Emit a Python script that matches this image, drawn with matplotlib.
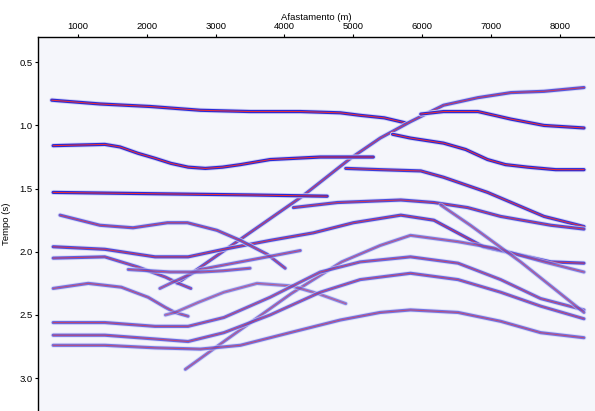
import matplotlib
matplotlib.use("Agg")
import matplotlib.pyplot as plt

plt.rcParams['font.family'] = ['Liberation Sans', 'DejaVu Sans']

# reflection events picked from the gather: offset (m) and time (s)
ev_a_off = [620, 1320, 2050, 2780, 3500, 4230, 4810, 5100, 5450, 5760]
ev_a_t = [0.80, 0.83, 0.85, 0.88, 0.89, 0.89, 0.90, 0.92, 0.94, 0.98]

ev_l1_off = [2440, 3310, 4260, 4960, 5390, 5830, 6310, 6810, 7290, 7770, 8350]
ev_l1_t = [2.25, 1.92, 1.56, 1.26, 1.10, 0.97, 0.84, 0.78, 0.74, 0.73, 0.70]

ev_b_off = [5980, 6310, 6810, 7290, 7770, 8350]
ev_b_t = [0.91, 0.89, 0.89, 0.95, 1.00, 1.02]

ev_c_off = [640, 1390, 1610, 1870, 2120, 2350, 2600, 2850, 3100, 3360, 3790, 4520, 5290]
ev_c_t = [1.16, 1.15, 1.17, 1.22, 1.26, 1.30, 1.33, 1.34, 1.33, 1.31, 1.27, 1.25, 1.25]

ev_d_off = [5570, 5830, 6310, 6630, 6950, 7210, 7530, 7940, 8350]
ev_d_t = [1.07, 1.10, 1.14, 1.19, 1.27, 1.31, 1.33, 1.35, 1.35]

ev_e_off = [640, 2050, 3500, 4620]
ev_e_t = [1.53, 1.54, 1.55, 1.56]

ev_f_off = [4890, 5390, 5980, 6310, 6950, 7770, 8350]
ev_f_t = [1.34, 1.35, 1.36, 1.41, 1.53, 1.72, 1.80]

ev_g_off = [4130, 4770, 5690, 6170, 6660, 7140, 7870, 8350]
ev_g_t = [1.65, 1.61, 1.59, 1.61, 1.65, 1.72, 1.79, 1.82]

ev_h_off = [640, 1390, 2120, 2600, 3120, 3790, 4420, 5000, 5690, 6170, 6890, 7870, 8350]
ev_h_t = [1.96, 1.98, 2.04, 2.04, 1.98, 1.91, 1.85, 1.77, 1.71, 1.75, 1.96, 2.08, 2.09]

ev_s1_off = [2560, 3120, 4100, 4830, 5390, 5830, 6520, 7040, 7770, 8350]
ev_s1_t = [2.93, 2.71, 2.33, 2.08, 1.95, 1.87, 1.92, 1.97, 2.08, 2.16]

ev_i_off = [740, 1320, 1800, 2300, 2590, 3020, 3360, 3750, 4010]
ev_i_t = [1.71, 1.79, 1.81, 1.77, 1.77, 1.83, 1.91, 2.02, 2.13]

ev_j_off = [640, 1390, 1870, 2270, 2460, 2640]
ev_j_t = [2.05, 2.04, 2.12, 2.20, 2.25, 2.29]

ev_k_off = [2190, 2380, 2780, 3260, 3750, 4230]
ev_k_t = [2.29, 2.24, 2.14, 2.09, 2.04, 1.99]

ev_flat_off = [1730, 2340, 2780, 3110, 3500]
ev_flat_t = [2.14, 2.16, 2.16, 2.15, 2.13]

ev_m_off = [640, 1150, 1630, 2020, 2270, 2410, 2600]
ev_m_t = [2.29, 2.25, 2.28, 2.36, 2.44, 2.48, 2.51]

ev_n_off = [2270, 2410, 2750, 3120, 3600, 4100, 4480, 4890]
ev_n_t = [2.50, 2.48, 2.40, 2.32, 2.25, 2.27, 2.33, 2.41]

ev_p_off = [640, 1390, 2120, 2600, 3120, 3790, 4520, 5100, 5830, 6520, 7140, 7720, 8350]
ev_p_t = [2.56, 2.56, 2.59, 2.59, 2.52, 2.36, 2.16, 2.08, 2.04, 2.09, 2.22, 2.37, 2.46]

ev_q_off = [640, 1390, 2120, 2600, 3120, 3790, 4520, 5100, 5830, 6520, 7140, 7720, 8350]
ev_q_t = [2.66, 2.66, 2.69, 2.71, 2.64, 2.50, 2.32, 2.22, 2.17, 2.22, 2.32, 2.43, 2.53]

ev_r_off = [640, 1390, 2120, 2780, 3360, 4080, 4810, 5390, 5830, 6520, 7140, 7720, 8350]
ev_r_t = [2.74, 2.74, 2.76, 2.77, 2.74, 2.64, 2.54, 2.48, 2.46, 2.48, 2.55, 2.64, 2.68]

ev_diag_off = [6270, 6700, 7430, 8120, 8350]
ev_diag_t = [1.63, 1.79, 2.08, 2.38, 2.48]

events = [
    (ev_a_off, ev_a_t, 1.0),
    (ev_l1_off, ev_l1_t, 0.75),
    (ev_b_off, ev_b_t, 1.0),
    (ev_c_off, ev_c_t, 1.0),
    (ev_d_off, ev_d_t, 1.0),
    (ev_e_off, ev_e_t, 1.0),
    (ev_f_off, ev_f_t, 0.9),
    (ev_g_off, ev_g_t, 0.8),
    (ev_h_off, ev_h_t, 0.8),
    (ev_s1_off, ev_s1_t, 0.55),
    (ev_i_off, ev_i_t, 0.7),
    (ev_j_off, ev_j_t, 0.7),
    (ev_k_off, ev_k_t, 0.6),
    (ev_flat_off, ev_flat_t, 0.6),
    (ev_m_off, ev_m_t, 0.6),
    (ev_n_off, ev_n_t, 0.5),
    (ev_p_off, ev_p_t, 0.65),
    (ev_q_off, ev_q_t, 0.65),
    (ev_r_off, ev_r_t, 0.6),
    (ev_diag_off, ev_diag_t, 0.55),
]

fig = plt.figure(figsize=(5.95, 4.11), dpi=100)
ax = fig.add_axes([38 / 595, 0.0, 1 - 38 / 595, 1 - 37 / 411])
ax.set_facecolor('#f5f6fb')

for off, t, amp in events:
    ax.plot(off, t, color='#d2d2f4', lw=3.6, alpha=amp, solid_joinstyle='round', solid_capstyle='round')
    ax.plot(off, t, color='#2a2ad6', lw=2.3, alpha=amp, solid_joinstyle='round', solid_capstyle='round')
    ax.plot(off, t, color='#f03030', lw=0.7, alpha=amp, solid_joinstyle='round')

ax.set_xlim(420, 8510)
ax.set_ylim(3.26, 0.30)
ax.xaxis.tick_top()
ax.xaxis.set_label_position('top')
ax.set_xticks([1000, 2000, 3000, 4000, 5000, 6000, 7000, 8000])
ax.set_yticks([0.5, 1.0, 1.5, 2.0, 2.5, 3.0])
ax.set_yticklabels(['0.5', '1.0', '1.5', '2.0', '2.5', '3.0'])
ax.tick_params(labelsize=6.8, length=2.5, width=0.8, pad=1.5)
ax.set_xlabel('Afastamento (m)', fontsize=6.8, labelpad=2)
ax.set_ylabel('Tempo (s)', fontsize=6.8, labelpad=6)
ax.spines['right'].set_visible(False)
ax.spines['bottom'].set_visible(False)
ax.spines['left'].set_linewidth(1.0)
ax.spines['top'].set_linewidth(1.0)

fig.savefig('out.png', dpi=100)
